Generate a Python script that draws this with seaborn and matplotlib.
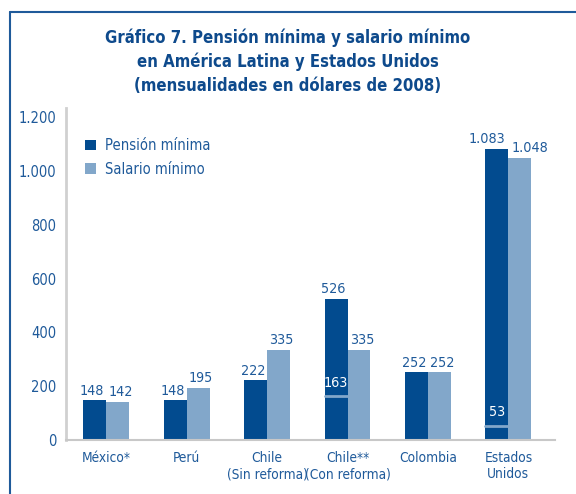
import matplotlib
matplotlib.use("Agg")
import matplotlib.pyplot as plt
import seaborn as sns
import pandas as pd
from matplotlib.lines import Line2D

# Data
paises = ["México*", "Perú", "Chile\n(Sin reforma)", "Chile**\n(Con reforma)", "Colombia", "Estados\nUnidos"]
pension_minima = [148, 148, 222, 526, 252, 1083]
salario_minimo = [142, 195, 335, 335, 252, 1048]
# marked sub-values inside the dark bars (index, value)
marcas_internas = [(3, 163), (5, 53)]
yticks = [0, 200, 400, 600, 800, 1000, 1200]

dark = "#024b8f"
light = "#82a7ca"
txt = "#1f5a9a"

def fmt(v):
    return f"{v:,}".replace(",", ".")

sns.set_style("white")
plt.rcParams["font.family"] = ["DejaVu Sans"]
plt.rcParams["font.stretch"] = "condensed"

df = pd.DataFrame({
    "pais": paises * 2,
    "valor": pension_minima + salario_minimo,
    "serie": ["Pensión mínima"] * len(paises) + ["Salario mínimo"] * len(paises),
})

fig = plt.figure(figsize=(5.76, 4.94), dpi=100)
ax = fig.add_axes([0.1146, 0.109, 0.849, 0.672])
sns.barplot(data=df, x="pais", y="valor", hue="serie", palette=[dark, light],
            width=0.57, saturation=1, ax=ax, errorbar=None, linewidth=0)

ax.set_ylim(0, 1233)
ax.set_xlim(-0.5, 5.58)
ax.set_yticks(yticks)
ax.set_yticklabels([fmt(t) for t in yticks], color=txt, fontsize=10.5)
ax.tick_params(axis="y", length=0, pad=7)
ax.tick_params(axis="x", length=0, pad=8, labelcolor=txt, labelsize=9.8)
ax.set_xlabel("")
ax.set_ylabel("")
for s in ["top", "right"]:
    ax.spines[s].set_visible(False)
ax.spines["left"].set_color("#d0d0d0")
ax.spines["left"].set_linewidth(2)
ax.spines["bottom"].set_color("#c8c8c8")
ax.spines["bottom"].set_linewidth(1.5)

# value labels (pairs nudged apart, last group a bit more)
for k, cont in enumerate(ax.containers):
    for i, b in enumerate(cont):
        off = 7 if i == len(paises) - 1 else 2
        dx = -off if k == 0 else off
        ax.annotate(fmt(int(b.get_height())), (b.get_x() + b.get_width() / 2, b.get_height()),
                    xytext=(dx, 2), textcoords="offset points", ha="center", va="bottom",
                    color=txt, fontsize=10.3)

# inner marks
bars_dark = ax.containers[0]
for i, v in marcas_internas:
    b = bars_dark[i]
    x0, w = b.get_x(), b.get_width()
    ax.plot([x0, x0 + w], [v, v], color=light, lw=2)
    ax.text(x0 + w / 2, v + 25, str(v), color="white", ha="center", va="bottom", fontsize=10.3)

leg = ax.legend(loc="upper left", bbox_to_anchor=(0.039, 0.91), frameon=False,
                fontsize=10.5, handlelength=0.75, handleheight=0.75, handletextpad=0.6,
                labelspacing=0.6, borderpad=0, borderaxespad=0)
for t in leg.get_texts():
    t.set_color(txt)

fig.text(0.5, 0.942, "Gráfico 7. Pensión mínima y salario mínimo\nen América Latina y Estados Unidos\n(mensualidades en dólares de 2008)",
         ha="center", va="top", fontsize=12, fontweight="bold", color="#0e4a8c", linespacing=1.4)

# frame lines
fig.add_artist(Line2D([0.018, 0.018], [0, 0.976], color=txt, lw=1.5, transform=fig.transFigure))
fig.add_artist(Line2D([0.018, 1.0], [0.976, 0.976], color=txt, lw=1.5, transform=fig.transFigure))

fig.savefig("out.png", dpi=100)
